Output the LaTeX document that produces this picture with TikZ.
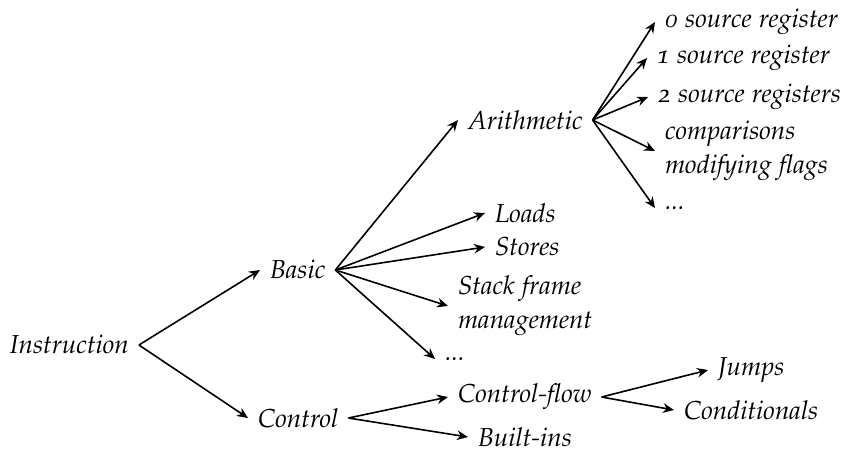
\documentclass[tikz,border=0pt]{standalone}
\usepackage[T1]{fontenc}
\usepackage[osf]{mathpazo}
\usetikzlibrary{arrows.meta}
\begin{document}
\begin{tikzpicture}[x=0.5pt,y=-0.5pt,
  item/.style={anchor=west,inner xsep=5pt,inner ysep=2pt,outer sep=0pt,
    font=\fontsize{13pt}{17pt}\selectfont\itshape,align=left},
  link/.style={-{Stealth[length=5.5pt,width=4.8pt,inset=1.8pt]},line width=0.8pt}]
\useasboundingbox (0,0) rectangle (845,452);
% root and first level
\node[item] (inst) at (0,345) {Instruction};
\node[item] (basic) at (260,270) {Basic};
\node[item] (ctrl) at (248,418) {Control};
% children of Basic
\node[item] (arith) at (458,120) {Arithmetic};
\node[item] (loads) at (485,213) {Loads};
\node[item] (stores) at (485,247) {Stores};
\node[item] (stack) at (448,306) {Stack frame\\management};
\node[item] (bdots) at (435,359) {...};
% children of Arithmetic
\node[item] (r0) at (655,22) {0 source register};
\node[item] (r1) at (647,58) {1 source register};
\node[item] (r2) at (648,97) {2 source registers};
\node[item] (cmp) at (655,151) {comparisons\\modifying flags};
\node[item] (adots) at (655,208) {...};
% children of Control
\node[item] (cflow) at (448,397) {Control-flow};
\node[item] (built) at (468,437) {Built-ins};
% children of Control-flow
\node[item] (jumps) at (708,370) {Jumps};
\node[item] (cond) at (674,410) {Conditionals};
% connectors
\draw[link] (inst.east) -- (basic.west);
\draw[link] (inst.east) -- (ctrl.west);
\foreach \c in {arith,loads,stores,stack,bdots}
  \draw[link] (basic.east) -- (\c.west);
\foreach \c in {r0,r1,r2,cmp,adots}
  \draw[link] (arith.east) -- (\c.west);
\foreach \c in {cflow,built}
  \draw[link] (ctrl.east) -- (\c.west);
\foreach \c in {jumps,cond}
  \draw[link] (cflow.east) -- (\c.west);
\end{tikzpicture}
\end{document}
